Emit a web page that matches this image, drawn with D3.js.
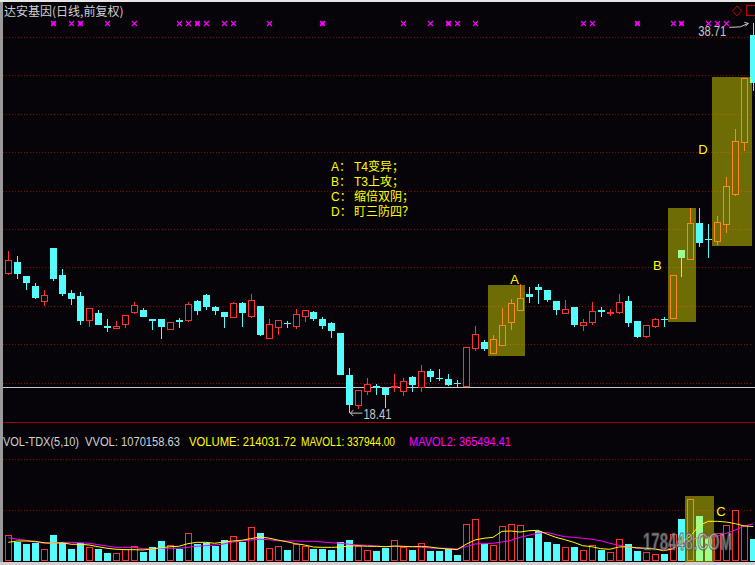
<!DOCTYPE html>
<html><head><meta charset="utf-8">
<script src="https://cdn.jsdelivr.net/npm/d3@7"></script>
<style>html,body{margin:0;padding:0;background:#060409;overflow:hidden}</style>
</head><body><svg id="c" width="755" height="565"></svg>
<script>
// ---- data ----
const opens = [
 25.72,26.28,25.55,25.03,24.27,27.01,25.60,24.67,24.51,23.28,
 23.63,22.95,22.86,23.07,23.66,23.78,23.31,23.31,22.78,23.26,
 23.28,24.25,24.56,23.94,23.68,23.43,24.15,23.48,23.99,22.34,
 22.91,23.12,22.96,23.48,23.68,23.31,23.10,22.58,20.40,18.85,
 19.58,19.82,19.72,19.77,19.58,20.29,19.77,20.60,20.24,20.19,
 19.98,19.82,21.82,22.11,21.56,21.97,23.17,23.80,24.61,24.98,
 24.82,24.25,23.64,23.94,22.98,23.17,23.80,23.64,23.69,24.25,
 23.21,22.44,22.96,23.33,23.38,26.91,26.45,28.31,27.49,27.36,
 28.24,29.84,32.55,38.10];
const highs = [
 26.85,26.59,25.56,25.19,24.82,27.01,25.92,24.82,24.72,23.89,
 23.78,23.31,23.21,23.52,24.20,23.89,23.31,23.31,23.16,23.36,
 24.20,24.30,24.61,23.99,23.68,24.20,24.20,24.61,23.99,23.31,
 23.26,23.21,23.83,23.78,23.73,23.42,23.16,22.58,20.76,19.61,
 20.24,19.93,19.72,20.45,20.24,20.34,20.92,20.71,20.71,20.45,
 20.14,21.85,22.95,22.22,22.48,23.89,24.35,25.14,24.98,25.14,
 24.82,24.25,24.30,23.94,23.31,24.20,23.94,23.83,24.61,24.51,
 23.21,23.00,23.38,23.43,25.60,26.91,29.11,29.11,28.26,28.68,
 30.71,33.21,35.86,38.71];
const lows = [
 25.62,25.41,24.82,24.35,24.01,25.31,24.53,24.04,23.00,22.91,
 23.01,22.65,22.79,22.86,23.59,23.43,22.76,22.29,22.78,22.86,
 23.17,23.54,23.80,23.54,22.86,23.38,22.91,23.38,22.44,22.34,
 22.49,22.86,22.81,23.17,23.22,22.81,22.34,20.41,18.41,18.61,
 19.35,19.35,18.68,19.51,19.30,19.51,19.51,20.03,20.08,19.82,
 19.77,19.82,21.66,21.65,21.56,21.92,22.76,23.80,24.16,24.11,
 24.21,23.54,23.64,22.91,22.70,23.02,23.43,23.48,23.59,22.91,
 22.34,22.34,22.86,22.91,23.38,25.52,26.45,27.08,26.51,27.15,
 27.81,29.73,32.08,35.20];
const closes = [
 26.39,25.67,25.20,24.42,24.56,25.41,24.63,24.35,23.22,23.89,
 23.02,22.86,22.93,23.52,24.04,23.43,23.19,22.91,23.16,23.17,
 24.09,23.74,23.95,23.74,23.43,24.15,23.64,24.30,22.49,23.05,
 23.26,23.07,23.57,23.78,23.33,22.96,22.70,20.41,18.85,19.61,
 19.93,19.70,19.37,19.82,20.08,19.88,20.60,20.29,20.19,19.88,
 19.93,21.85,22.53,21.75,22.27,23.00,24.15,24.41,24.47,24.82,
 24.32,23.80,23.83,23.02,23.16,23.73,23.68,23.68,24.20,23.12,
 22.39,23.00,23.31,23.30,25.60,26.51,28.31,27.29,27.44,28.35,
 30.22,32.57,35.86,35.60];
// volume, thousands of shares
const volumes = [
 252,189,167,179,115,255,179,118,179,134,
 118,78,75,115,144,88,137,196,154,118,
 272,167,176,147,206,242,186,330,275,125,
 144,108,167,147,118,118,108,186,206,147,
 108,98,130,203,134,108,174,98,98,118,
 59,360,409,167,154,340,360,350,225,294,
 186,167,134,137,108,154,108,88,213,164,
 98,88,69,69,262,412,605,441,239,276,
 350,497,353,214.03172];
const mavol1 = [
 183,196,196,193,179,174,179,164,164,157,
 140,125,115,111,111,108,118,130,140,144,
 170,183,183,174,186,196,203,219,235,225,
 206,189,170,157,137,134,134,137,147,150,
 144,144,140,147,144,140,144,137,125,118,
 111,164,206,223,232,291,294,284,297,301,
 265,232,209,183,150,140,121,115,137,140,
 130,125,118,101,118,179,245,350,389,389,
 382,366,343,337.944];
const mavol2 = [
 228,213,203,186,174,174,183,183,179,174,
 160,147,134,134,134,121,118,125,125,125,
 134,144,150,157,167,186,196,206,213,209,
 199,196,196,193,193,186,179,174,164,157,
 154,147,140,144,140,140,134,127,125,125,
 118,140,167,170,174,186,203,232,252,272,
 281,258,238,232,223,213,199,174,154,140,
 125,125,118,111,127,164,206,232,238,245,
 272,304,343,365.494];
const gridPrices = [20,22,24,26,28,30,32,34,36,38];
const gridVols = [500,1000];
const refPrice = 19.77;
const markIdx = [5,7,8,11,14,19,20,21,22,24,25,29,35,44,47,49,50,52,64,65,70,74,75,78,79,80];
const markBold = [5,8,21,35,49,70,75];
const priceBoxes = [
 {from:54,to:57,top:25.10,bot:21.40},
 {from:74,to:76,top:29.08,bot:23.16},
 {from:79,to:83,top:35.92,bot:27.13}];
const volBoxes = [{from:76,to:78,top:637}];
const priceLabels = [{t:'A',i:56.4,p:25.14},{t:'B',i:72.3,p:25.86},{t:'D',i:77.4,p:31.91}];
const volLabels = [{t:'C',i:79.4,v:444}];
const notes = [['A：','T4变异；'],['B：','T3上攻；'],['C：','缩倍双阴；'],['D：','盯三防四？']];
const title = '达安基因(日线,前复权)';
const lowInfo = {i:38, p:18.41, t:'18.41'};
const highInfo = {i:83, p:38.71, t:'38.71'};
const volTexts = [
 {t:'VOL-TDX(5,10)', x:3, w:76, c:'#d0d0d0'},
 {t:'VVOL: 1070158.63', x:85, w:95, c:'#d0d0d0'},
 {t:'VOLUME: 214031.72', x:189, w:107, c:'#ffff00'},
 {t:'MAVOL1: 337944.00', x:301, w:94, c:'#ffff00'},
 {t:'MAVOL2: 365494.41', x:409, w:102, c:'#ff00ff'}];

// ---- drawing ----
const W=755,H=565, BG='#060409', RED='#ff3232', CYAN='#54fcfc', GRID='#8a0000';
const svg=d3.select('#c');
svg.append('rect').attr('width',W).attr('height',H).attr('fill',BG);
const x=d3.scaleLinear().domain([0,83]).range([8.3,753.3]);
const y=d3.scaleLinear().domain([20,38]).range([382.6,37]);
const yv=d3.scaleLinear().domain([0,1000]).range([561,459]);
const R=Math.round;

const grid=svg.append('g').attr('shape-rendering','crispEdges');
grid.selectAll('.gp').data(gridPrices).join('line')
  .attr('x1',3).attr('x2',752).attr('y1',d=>R(y(d))+0.5).attr('y2',d=>R(y(d))+0.5)
  .attr('stroke',GRID).attr('stroke-dasharray','1,2');
grid.selectAll('.gv').data(gridVols).join('line')
  .attr('x1',3).attr('x2',752).attr('y1',d=>R(yv(d))+0.5).attr('y2',d=>R(yv(d))+0.5)
  .attr('stroke',GRID).attr('stroke-dasharray','1,2');
grid.append('line').attr('x1',3).attr('x2',755).attr('y1',R(y(refPrice))+0.5).attr('y2',R(y(refPrice))+0.5)
  .attr('stroke','#c8c8c8');
grid.append('line').attr('x1',3).attr('x2',755).attr('y1',422.5).attr('y2',422.5).attr('stroke','#a00000');

const data=d3.range(opens.length).map(i=>({i,o:opens[i],h:highs[i],l:lows[i],c:closes[i],v:volumes[i]}));
const cg=svg.append('g').attr('shape-rendering','crispEdges');
function vline(g,xx,y1,y2,col){g.append('line').attr('x1',xx).attr('x2',xx).attr('y1',y1).attr('y2',y2).attr('stroke',col);}
data.forEach(d=>{
  const cx=R(x(d.i)), up=d.c>=d.o;
  const yo=R(y(d.o)), yc=R(y(d.c)), yh=R(y(d.h)), yl=R(y(d.l));
  const top=Math.min(yo,yc), bot=Math.max(yo,yc);
  if(up){
    if(yh<top) vline(cg,cx+0.5,yh,top,RED);
    if(yl>bot) vline(cg,cx+0.5,bot,yl,RED);
    if(bot-top<1) cg.append('line').attr('x1',cx-3).attr('x2',cx+4).attr('y1',top+0.5).attr('y2',top+0.5).attr('stroke',RED);
    else cg.append('rect').attr('x',cx-2.5).attr('y',top+0.5).attr('width',6).attr('height',bot-top).attr('fill',BG).attr('stroke',RED);
  } else {
    vline(cg,cx+0.5,yh,yl,CYAN);
    cg.append('rect').attr('x',cx-3).attr('y',top).attr('width',7).attr('height',Math.max(bot-top,1)).attr('fill',CYAN);
  }
  const vt=R(yv(d.v)), vb=561;
  if(up) cg.append('rect').attr('x',cx-2.5).attr('y',vt+0.5).attr('width',6).attr('height',vb-vt-1).attr('fill',BG).attr('stroke',RED);
  else cg.append('rect').attr('x',cx-3).attr('y',vt).attr('width',7).attr('height',vb-vt).attr('fill',CYAN);
});

// MA lines
const ln=d3.line().x((v,i)=>x(i)).y(v=>yv(v));
svg.append('path').attr('d',ln(mavol2)).attr('fill','none').attr('stroke','#ff00ff').attr('stroke-width',1);
svg.append('path').attr('d',ln(mavol1)).attr('fill','none').attr('stroke','#ffff00').attr('stroke-width',1);

// highlight boxes
const BOX='rgba(255,255,0,0.42)';
svg.selectAll('.pb').data(priceBoxes).join('rect')
  .attr('x',d=>R(x(d.from)-5)).attr('y',d=>R(y(d.top)))
  .attr('width',d=>Math.min(R(x(d.to)+5.5),752)-R(x(d.from)-5)).attr('height',d=>R(y(d.bot))-R(y(d.top)))
  .attr('fill',BOX);
svg.selectAll('.vb').data(volBoxes).join('rect')
  .attr('x',d=>R(x(d.from)-5)).attr('y',d=>R(yv(d.top)))
  .attr('width',d=>R(x(d.to)+5.5)-R(x(d.from)-5)).attr('height',d=>562-R(yv(d.top)))
  .attr('fill',BOX);

// watermark (narrow, tall)
svg.append('g').attr('transform','translate(643,550) scale(1,1.55)')
  .append('text').attr('x',0).attr('y',0).attr('font-family','Liberation Sans, Arial, sans-serif')
  .attr('font-size',15).attr('font-weight','bold')
  .attr('fill','rgba(200,200,200,0.62)').attr('stroke','rgba(70,70,70,0.7)').attr('stroke-width',0.8)
  .text('178448.COM');

// labels
const LF='Liberation Sans, Arial, sans-serif';
svg.selectAll('.pl').data(priceLabels).join('text')
  .attr('x',d=>x(d.i)).attr('y',d=>y(d.p)).attr('text-anchor','middle')
  .attr('font-family',LF).attr('font-size',13).attr('fill','#ffff00').text(d=>d.t);
svg.selectAll('.vl').data(volLabels).join('text')
  .attr('x',d=>x(d.i)).attr('y',d=>yv(d.v)).attr('text-anchor','middle')
  .attr('font-family',LF).attr('font-size',13).attr('fill','#ffff00').text(d=>d.t);

// notes: a single text block, one line per note
const NF='"Liberation Sans", "Noto Sans CJK SC", sans-serif';
const nt=svg.append('text').attr('font-family',NF).attr('font-size',12).attr('fill','#ffff00');
notes.forEach((n,k)=>{
  const yy=171+k*15;
  nt.append('tspan').attr('x',331).attr('y',yy).text(n[0]);
  nt.append('tspan').attr('x',354).attr('y',yy).text(n[1]);
});

// title
const CJK='"Noto Sans CJK SC", sans-serif';
svg.append('text').attr('x',4).attr('y',16).attr('font-family',CJK).attr('font-size',12).attr('fill','#d0d0d0').text(title);

// marks
const mg=svg.append('g');
markIdx.forEach(i=>{
  const cx=R(x(i))+0.5, cy=23.5, s=2.5;
  mg.append('path').attr('d',`M${cx-s},${cy-s}L${cx+s},${cy+s}M${cx-s},${cy+s}L${cx+s},${cy-s}`)
    .attr('stroke','#ff00ff').attr('stroke-width',1.1);
  if(markBold.includes(i)) mg.append('rect').attr('x',cx-2).attr('y',cy-2).attr('width',4).attr('height',4).attr('fill','#ff00ff');
});

// low / high annotations
const lx=x(lowInfo.i), ly=y(lowInfo.p);
svg.append('path').attr('d',`M${lx+1},${ly}L${lx+13},${ly}M${lx+1},${ly}L${lx+4},${ly-3}M${lx+1},${ly}L${lx+4},${ly+3}`)
  .attr('stroke','#c8c8c8').attr('fill','none');
svg.append('g').attr('transform',`translate(${lx+14},${ly+6}) scale(1,1.2)`)
  .append('text').attr('font-family',LF).attr('font-size',12)
  .attr('textLength',28).attr('lengthAdjust','spacingAndGlyphs').attr('fill','#c8c8c8').text(lowInfo.t);
const hx=x(highInfo.i), hy=y(highInfo.p);
svg.append('path').attr('d',`M${hx-24},${hy+4}L${hx-13},${hy+3.5}L${hx-5},${hy}M${hx-5},${hy}L${hx-9},${hy-1}M${hx-5},${hy}L${hx-8},${hy+3}`)
  .attr('stroke','#c8c8c8').attr('fill','none');
svg.append('g').attr('transform',`translate(${hx-27},${hy+12.5}) scale(1,1.2)`)
  .append('text').attr('text-anchor','end').attr('font-family',LF).attr('font-size',12)
  .attr('textLength',28).attr('lengthAdjust','spacingAndGlyphs').attr('fill','#c8c8c8').text(highInfo.t);

// volume header texts (natural width fits; stretched vertically like the bitmap font)
const vg=svg.selectAll('.vt').data(volTexts).join('g').attr('transform',d=>`translate(${d.x},446) scale(1,1.2)`);
vg.append('text').attr('x',0).attr('y',0).attr('font-family',LF).attr('font-size',11)
  .attr('textLength',d=>d.w).attr('lengthAdjust','spacingAndGlyphs').attr('fill',d=>d.c).text(d=>d.t);

// top-right icons
svg.append('path').attr('d','M737,6L741.5,11L737,16L732.5,11Z').attr('fill','none').attr('stroke','#c00000');
svg.append('rect').attr('x',746.5).attr('y',5.5).attr('width',10).attr('height',10).attr('fill','none').attr('stroke','#c00000');

// frame
svg.append('rect').attr('x',0).attr('y',0).attr('width',3).attr('height',H).attr('fill','#9a9a9a');
svg.append('rect').attr('x',0).attr('y',0).attr('width',W).attr('height',2).attr('fill','#e6e6e6');
svg.append('rect').attr('x',0).attr('y',562).attr('width',W).attr('height',3).attr('fill','#d0d0d0');
</script></body></html>
